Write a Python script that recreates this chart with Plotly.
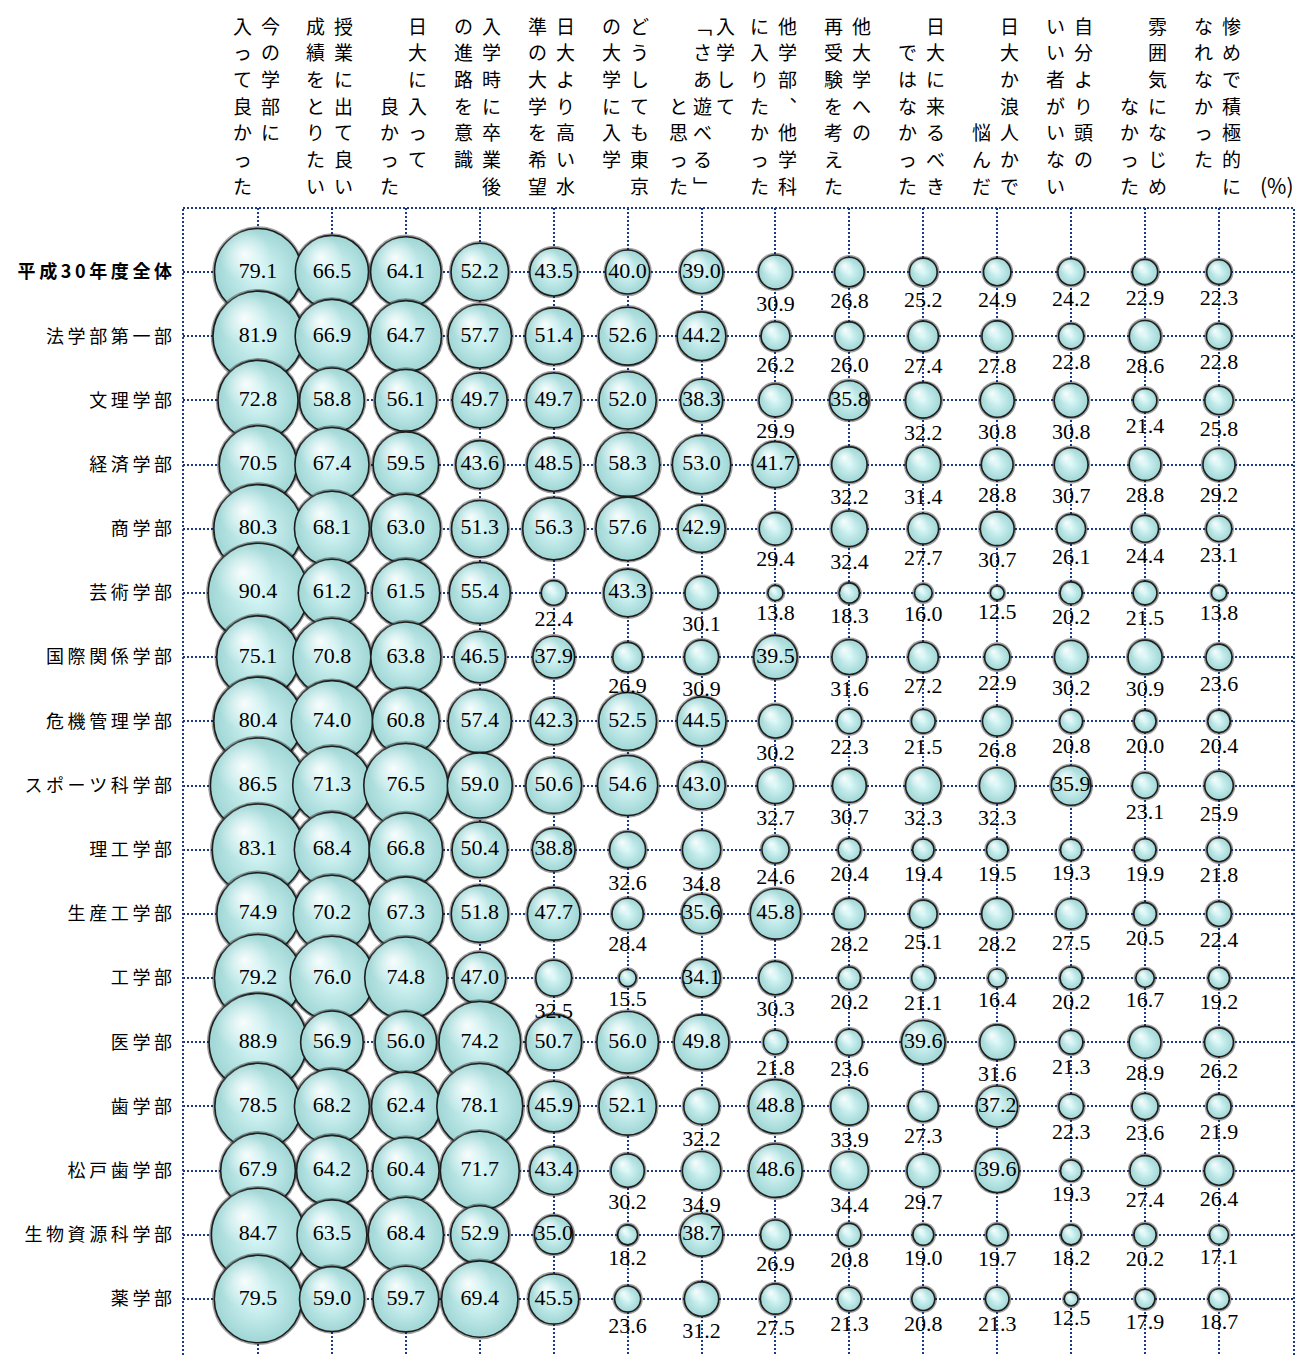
import plotly.graph_objects as go

# ---------------- data ----------------
row_labels = ["平成30年度全体", "法学部第一部", "文理学部", "経済学部", "商学部", "芸術学部",
              "国際関係学部", "危機管理学部", "スポーツ科学部", "理工学部", "生産工学部", "工学部",
              "医学部", "歯学部", "松戸歯学部", "生物資源科学部", "薬学部"]

# column headers (vertical writing, columns listed right-to-left, "　" = empty cell)
header_columns = [
    ["今の学部に", "入って良かった"],
    ["授業に出て良い", "成績をとりたい"],
    ["日大に入って", "　　　良かった"],
    ["入学時に卒業後", "の進路を意識"],
    ["日大より高い水", "準の大学を希望"],
    ["どうしても東京", "の大学に入学"],
    ["入学して", "﹁さあ遊べる﹂", "　　　と思った"],
    ["他学部︑他学科", "に入りたかった"],
    ["他大学への", "再受験を考えた"],
    ["日大に来るべき", "　ではなかった"],
    ["日大か浪人かで", "　　　　悩んだ"],
    ["自分より頭の", "いい者がいない"],
    ["雰囲気になじめ", "　　　なかった"],
    ["惨めで積極的に", "なれなかった"],
]
unit_label = "(%)"

v_zentai   = [79.1, 66.5, 64.1, 52.2, 43.5, 40.0, 39.0, 30.9, 26.8, 25.2, 24.9, 24.2, 22.9, 22.3]
v_hogaku   = [81.9, 66.9, 64.7, 57.7, 51.4, 52.6, 44.2, 26.2, 26.0, 27.4, 27.8, 22.8, 28.6, 22.8]
v_bunri    = [72.8, 58.8, 56.1, 49.7, 49.7, 52.0, 38.3, 29.9, 35.8, 32.2, 30.8, 30.8, 21.4, 25.8]
v_keizai   = [70.5, 67.4, 59.5, 43.6, 48.5, 58.3, 53.0, 41.7, 32.2, 31.4, 28.8, 30.7, 28.8, 29.2]
v_shogaku  = [80.3, 68.1, 63.0, 51.3, 56.3, 57.6, 42.9, 29.4, 32.4, 27.7, 30.7, 26.1, 24.4, 23.1]
v_geijutsu = [90.4, 61.2, 61.5, 55.4, 22.4, 43.3, 30.1, 13.8, 18.3, 16.0, 12.5, 20.2, 21.5, 13.8]
v_kokusai  = [75.1, 70.8, 63.8, 46.5, 37.9, 26.9, 30.9, 39.5, 31.6, 27.2, 22.9, 30.2, 30.9, 23.6]
v_kiki     = [80.4, 74.0, 60.8, 57.4, 42.3, 52.5, 44.5, 30.2, 22.3, 21.5, 26.8, 20.8, 20.0, 20.4]
v_sports   = [86.5, 71.3, 76.5, 59.0, 50.6, 54.6, 43.0, 32.7, 30.7, 32.3, 32.3, 35.9, 23.1, 25.9]
v_riko     = [83.1, 68.4, 66.8, 50.4, 38.8, 32.6, 34.8, 24.6, 20.4, 19.4, 19.5, 19.3, 19.9, 21.8]
v_seisan   = [74.9, 70.2, 67.3, 51.8, 47.7, 28.4, 35.6, 45.8, 28.2, 25.1, 28.2, 27.5, 20.5, 22.4]
v_kogaku   = [79.2, 76.0, 74.8, 47.0, 32.5, 15.5, 34.1, 30.3, 20.2, 21.1, 16.4, 20.2, 16.7, 19.2]
v_igaku    = [88.9, 56.9, 56.0, 74.2, 50.7, 56.0, 49.8, 21.8, 23.6, 39.6, 31.6, 21.3, 28.9, 26.2]
v_shigaku  = [78.5, 68.2, 62.4, 78.1, 45.9, 52.1, 32.2, 48.8, 33.9, 27.3, 37.2, 22.3, 23.6, 21.9]
v_matsudo  = [67.9, 64.2, 60.4, 71.7, 43.4, 30.2, 34.9, 48.6, 34.4, 29.7, 39.6, 19.3, 27.4, 26.4]
v_seibutsu = [84.7, 63.5, 68.4, 52.9, 35.0, 18.2, 38.7, 26.9, 20.8, 19.0, 19.7, 18.2, 20.2, 17.1]
v_yakugaku = [79.5, 59.0, 59.7, 69.4, 45.5, 23.6, 31.2, 27.5, 21.3, 20.8, 21.3, 12.5, 17.9, 18.7]

values_by_row = [v_zentai, v_hogaku, v_bunri, v_keizai, v_shogaku, v_geijutsu, v_kokusai,
                 v_kiki, v_sports, v_riko, v_seisan, v_kogaku, v_igaku, v_shigaku,
                 v_matsudo, v_seibutsu, v_yakugaku]

# ---------------- style ----------------
W, H = 1309, 1355
M_L, M_R, M_T, M_B = 183, 15, 208, 0
PLOT_W = W - M_L - M_R
PLOT_H = H - M_T - M_B
GRID = "#1b3a86"
DOT = "2px,2px"
SIZE_SCALE = 1.1          # px of diameter per percent
INSIDE_MIN = 35.0
inside_exceptions = {("工学部", 6)}
SANS = "Noto Sans CJK JP"
SERIF = "Liberation Serif, Times New Roman, serif"

ncol = len(header_columns)
nrow = len(row_labels)
cols = list(range(ncol))

# axis ranges: columns ~73.9 px apart, rows ~64.2 px apart
col_px = PLOT_W / (ncol + 1.03)
x_pad = 75 / col_px
row_px = 64.19
y_top = -(272 - M_T) / row_px
y_bot = y_top + PLOT_H / row_px

fig = go.Figure()

for i, vals in enumerate(values_by_row):
    # soft dark halo around each sphere
    fig.add_trace(go.Scatter(
        x=cols, y=[i] * ncol, mode="markers",
        marker=dict(size=[v + 4.5 / SIZE_SCALE for v in vals], sizemode="diameter",
                    sizeref=1 / SIZE_SCALE, color="rgba(20,20,20,0.4)", opacity=1,
                    line=dict(width=0)),
        hoverinfo="skip", showlegend=False, cliponaxis=False,
    ))
    # sphere body
    fig.add_trace(go.Scatter(
        x=cols, y=[i] * ncol, mode="markers",
        marker=dict(size=vals, sizemode="diameter", sizeref=1 / SIZE_SCALE,
                    color="#9fd6d5", opacity=1,
                    gradient=dict(type="radial", color="#dcf9f9"),
                    line=dict(color="#1e1e1e", width=1.6)),
        hoverinfo="skip", showlegend=False, cliponaxis=False,
    ))
    # specular highlight, up-left of centre
    hx = [j - 0.15 * v * SIZE_SCALE / col_px for j, v in zip(cols, vals)]
    hy = [i - 0.2 * v * SIZE_SCALE / row_px for v in vals]
    fig.add_trace(go.Scatter(
        x=hx, y=hy, mode="markers",
        marker=dict(size=[0.6 * v for v in vals], sizemode="diameter",
                    sizeref=1 / SIZE_SCALE, color="rgba(245,255,255,0)", opacity=1,
                    gradient=dict(type="radial", color="rgba(255,255,255,0.9)"),
                    line=dict(width=0)),
        hoverinfo="skip", showlegend=False, cliponaxis=False,
    ))

in_x, in_y, in_t = [], [], []
out_x, out_y, out_t, out_s = [], [], [], []
for i, vals in enumerate(values_by_row):
    for j, v in enumerate(vals):
        label = f"{v:.1f}"
        if v >= INSIDE_MIN or (row_labels[i], j) in inside_exceptions:
            in_x.append(j); in_y.append(i); in_t.append(label)
        else:
            out_x.append(j); out_y.append(i); out_t.append(label); out_s.append(v)

fig.add_trace(go.Scatter(
    x=in_x, y=in_y, text=in_t, mode="text", textposition="middle center",
    textfont=dict(family=SERIF, size=22, color="#000000"),
    hoverinfo="skip", showlegend=False, cliponaxis=False,
))
fig.add_trace(go.Scatter(
    x=out_x, y=out_y, text=out_t, mode="markers+text", textposition="bottom center",
    marker=dict(size=out_s, sizemode="diameter", sizeref=1 / SIZE_SCALE,
                color="rgba(0,0,0,0)", opacity=1, line=dict(width=0)),
    textfont=dict(family=SERIF, size=22, color="#000000"),
    hoverinfo="skip", showlegend=False, cliponaxis=False,
))

# ---------------- header annotations (vertical text) ----------------
ROW0_PX, ROW_STEP_PX = 25, 26.7

def paper_y(py):
    return 1 + (M_T - py) / PLOT_H

annotations = []
for j, columns in enumerate(header_columns):
    n = len(columns)
    if n == 2:
        start, step = 12, 28
    else:
        start, step = 24, 23.5
    for k, text in enumerate(columns):
        shift = start - k * step
        for r, ch in enumerate(text):
            if ch == "　":
                continue
            annotations.append(dict(
                x=j, xref="x", xshift=shift,
                y=paper_y(ROW0_PX + r * ROW_STEP_PX), yref="paper",
                text=ch, showarrow=False, xanchor="center", yanchor="middle",
                font=dict(family=SANS, size=19, color="#000000"),
            ))
annotations.append(dict(
    x=ncol - 1, xref="x", xshift=58,
    y=paper_y(ROW0_PX + 6 * ROW_STEP_PX), yref="paper",
    text=unit_label, showarrow=False, xanchor="center", yanchor="middle",
    font=dict(family=SANS, size=21, color="#000000"),
))

# borders (dotted) on left, top, right
line_style = dict(color=GRID, width=2, dash=DOT)
shapes = [
    dict(type="line", xref="paper", yref="paper", x0=0, x1=0, y0=0, y1=1, line=line_style, layer="below"),
    dict(type="line", xref="paper", yref="paper", x0=0, x1=1, y0=1, y1=1, line=line_style, layer="below"),
    dict(type="line", xref="paper", yref="paper", x0=1, x1=1, y0=0, y1=1, line=line_style, layer="below"),
]

def spaced(s):
    return "\u2009".join(s)

ticktext = [("<b>" + spaced(lbl) + "</b>") if i == 0 else spaced(lbl) for i, lbl in enumerate(row_labels)]

fig.update_layout(
    width=W, height=H,
    margin=dict(l=M_L, r=M_R, t=M_T, b=M_B, pad=0),
    paper_bgcolor="white", plot_bgcolor="white",
    showlegend=False,
    annotations=annotations,
    shapes=shapes,
    xaxis=dict(range=[-x_pad, ncol - 1 + x_pad], tickvals=cols, showticklabels=False,
               showgrid=True, gridcolor=GRID, gridwidth=2, griddash=DOT,
               zeroline=False, showline=False, ticks="", fixedrange=True),
    yaxis=dict(range=[y_bot, y_top], tickvals=list(range(nrow)), ticktext=ticktext,
               showgrid=True, gridcolor=GRID, gridwidth=2, griddash=DOT,
               zeroline=False, showline=False, ticks="", ticklabelstandoff=10,
               tickfont=dict(family=SANS, size=18, color="#000000"), fixedrange=True),
    font=dict(family=SANS),
)

fig.write_html("out.html")
